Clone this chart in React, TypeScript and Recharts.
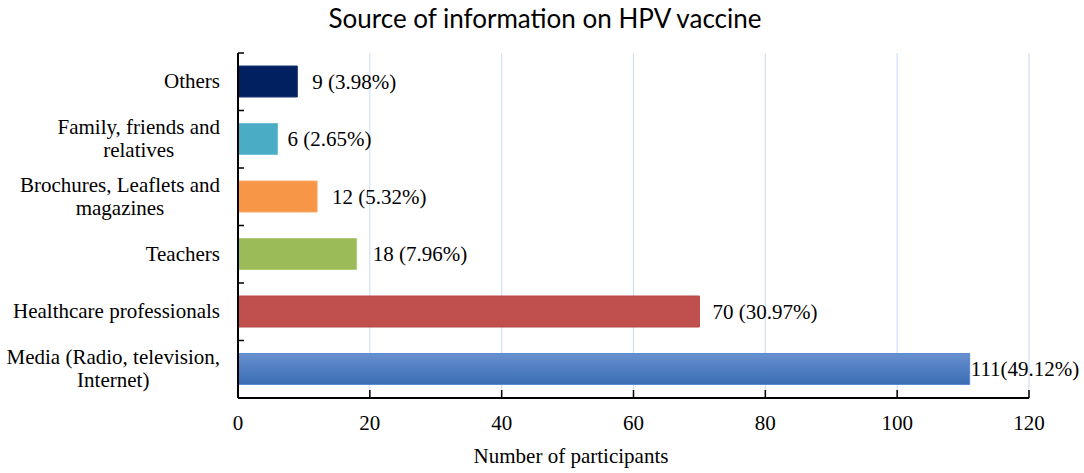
import { Bar, BarChart, CartesianGrid, Cell, LabelList, XAxis, YAxis } from 'recharts'

const categories = [
  'Others',
  'Family, friends and relatives',
  'Brochures, Leaflets and magazines',
  'Teachers',
  'Healthcare professionals',
  'Media (Radio, television, Internet)',
]
const categoryLines = [
  ['Others'],
  ['Family, friends and', 'relatives'],
  ['Brochures, Leaflets and', 'magazines'],
  ['Teachers'],
  ['Healthcare professionals'],
  ['Media (Radio, television,', 'Internet)'],
]
const participants = [9, 6, 12, 18, 70, 111]
const valueLabels = ['9 (3.98%)', '6 (2.65%)', '12 (5.32%)', '18 (7.96%)', '70 (30.97%)', '111(49.12%)']
const xTicks = [0, 20, 40, 60, 80, 100, 120]

const barColors = ['#002060', '#4bacc6', '#f79646', '#9bbb59', '#c0504d', 'url(#mediaFill)']
const barStrokes = ['#1a3570', '#6fc0d6', '#f9ab6c', '#b0cc7a', '#b74845', '#5a8ad0']
const labelGaps = [15, 10, 15, 16, 13, 1]

const data = categories.map((name, i) => ({
  name,
  count: participants[i],
  label: valueLabels[i],
}))

const W = 1084
const H = 473
const M = { top: 53, right: 55, bottom: 0, left: 0 }
const X_AXIS_H = 75
const bandHalf = (H - M.top - M.bottom - X_AXIS_H) / categories.length / 2
const serif = '"Liberation Serif", "Times New Roman", serif'

function CategoryTick({ x, y, payload, index }: any) {
  const lines = categoryLines[index] ?? [payload.value]
  return (
    <g>
      <line x1={x} x2={x + 6} y1={y - bandHalf} y2={y - bandHalf} stroke="#000" strokeWidth={1.5} />
      <foreignObject x={x - 238} y={y - 28} width={220} height={56}>
        <div style={{ display: 'flex', justifyContent: 'flex-end', alignItems: 'center', height: '100%' }}>
          <div style={{ textAlign: 'center', fontFamily: serif, fontSize: 21, lineHeight: '23px', color: '#000', whiteSpace: 'nowrap' }}>
            {lines.map((l: string) => (
              <div key={l}>{l}</div>
            ))}
          </div>
        </div>
      </foreignObject>
    </g>
  )
}

function ValueTick({ x, y, payload }: any) {
  return (
    <g>
      {payload.value !== 0 && <line x1={x} x2={x} y1={y} y2={y - 8} stroke="#000" strokeWidth={1.5} />}
      <text x={x} y={y + 32} textAnchor="middle" fontFamily={serif} fontSize={21} fill="#000">
        {payload.value}
      </text>
    </g>
  )
}

function ValueLabel({ x, y, width, height, value, index }: any) {
  return (
    <text
      x={x + width + labelGaps[index]}
      y={y + height / 2}
      dominantBaseline="central"
      fontFamily={serif}
      fontSize={21}
      fill="#000"
    >
      {value}
    </text>
  )
}

export default function App() {
  return (
    <div style={{ position: 'absolute', left: 0, top: 0, width: W, height: H, background: '#fff' }}>
      <BarChart width={W} height={H} data={data} layout="vertical" margin={M}>
        <defs>
          <linearGradient id="mediaFill" x1="0" y1="0" x2="0" y2="1">
            <stop offset="0%" stopColor="#6890cf" />
            <stop offset="100%" stopColor="#3a6cb3" />
          </linearGradient>
        </defs>
        <text x={545} y={28} textAnchor="middle" fontFamily='Lato, "Open Sans", sans-serif' fontSize={26} fill="#000">
          Source of information on HPV vaccine
        </text>
        <CartesianGrid horizontal={false} stroke="#cfe0f5" strokeWidth={1.2} />
        <XAxis
          type="number"
          domain={[0, 120]}
          ticks={xTicks}
          tick={<ValueTick />}
          tickLine={false}
          tickSize={0}
          tickMargin={0}
          axisLine={{ stroke: '#000', strokeWidth: 2 }}
          height={X_AXIS_H}
          interval={0}
        />
        <YAxis
          type="category"
          dataKey="name"
          width={238}
          tick={<CategoryTick />}
          tickLine={false}
          tickSize={0}
          tickMargin={0}
          axisLine={{ stroke: '#000', strokeWidth: 2 }}
          interval={0}
        />
        <Bar dataKey="count" barSize={31} isAnimationActive={false}>
          {data.map((d, i) => (
            <Cell key={d.name} fill={barColors[i]} stroke={barStrokes[i]} strokeWidth={1} />
          ))}
          <LabelList dataKey="label" content={<ValueLabel />} />
        </Bar>
        <text x={571} y={463} textAnchor="middle" fontFamily={serif} fontSize={21} fill="#000">
          Number of participants
        </text>
      </BarChart>
    </div>
  )
}
